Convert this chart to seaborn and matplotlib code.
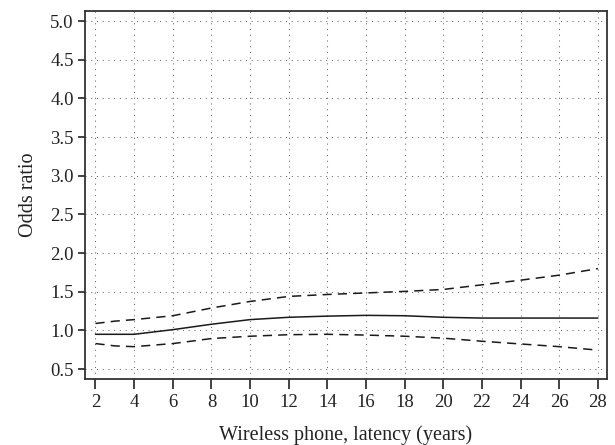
import numpy as np
import pandas as pd
import matplotlib
matplotlib.use("Agg")
import matplotlib.pyplot as plt
import seaborn as sns

# latency (years) and odds ratio curve with confidence limits
latency = [2, 3, 4, 6, 8, 10, 12, 14, 16, 18, 20, 22, 24, 26, 28]
odds = [0.95, 0.95, 0.95, 1.01, 1.08, 1.14, 1.17, 1.185, 1.195, 1.19, 1.17, 1.16, 1.16, 1.16, 1.16]
upper = [1.09, 1.12, 1.14, 1.19, 1.29, 1.375, 1.44, 1.465, 1.485, 1.505, 1.53, 1.59, 1.65, 1.715, 1.80]
lower = [0.83, 0.80, 0.79, 0.83, 0.895, 0.925, 0.945, 0.95, 0.94, 0.925, 0.90, 0.86, 0.825, 0.79, 0.745]

x_ticks = list(range(2, 29, 2))
y_ticks = [0.5, 1.0, 1.5, 2.0, 2.5, 3.0, 3.5, 4.0, 4.5, 5.0]

df = pd.DataFrame({"latency": latency, "odds": odds, "upper": upper, "lower": lower})

sns.set_style("white")
plt.rcParams["font.family"] = ["Liberation Serif", "DejaVu Serif"]

fig = plt.figure(figsize=(6.15, 4.45), dpi=100)
ax = fig.add_axes([0.138, 0.148, 0.849, 0.827])

sns.lineplot(data=df, x="latency", y="odds", ax=ax, color="#1a1a1a", linewidth=1.1)
sns.lineplot(data=df, x="latency", y="upper", ax=ax, color="#1a1a1a", linewidth=1.1,
             linestyle=(0, (6, 4)))
sns.lineplot(data=df, x="latency", y="lower", ax=ax, color="#1a1a1a", linewidth=1.1,
             linestyle=(0, (6, 4)))

ax.set_xlim(1.45, 28.47)
ax.set_ylim(0.37, 5.13)
ax.set_xticks(x_ticks)
ax.set_yticks(y_ticks)
ax.set_yticklabels([f"{v:.1f}" for v in y_ticks])
ax.grid(True, color="#666666", linestyle=(0, (1, 4.5)), linewidth=0.75)

ax.tick_params(axis="x", bottom=True, direction="out", length=7, width=1.2, labelsize=13.5,
               colors="#222222", pad=4)
ax.tick_params(axis="y", left=True, direction="out", length=5, width=1.2, labelsize=13.5,
               colors="#222222", pad=3)
for s in ax.spines.values():
    s.set_color("#333333")
    s.set_linewidth(1.3)

ax.set_xlabel("Wireless phone, latency (years)", fontsize=14.5, color="#222222", labelpad=10)
ax.set_ylabel("Odds ratio", fontsize=14.5, color="#222222", labelpad=9)

fig.savefig("out.png", dpi=100)
